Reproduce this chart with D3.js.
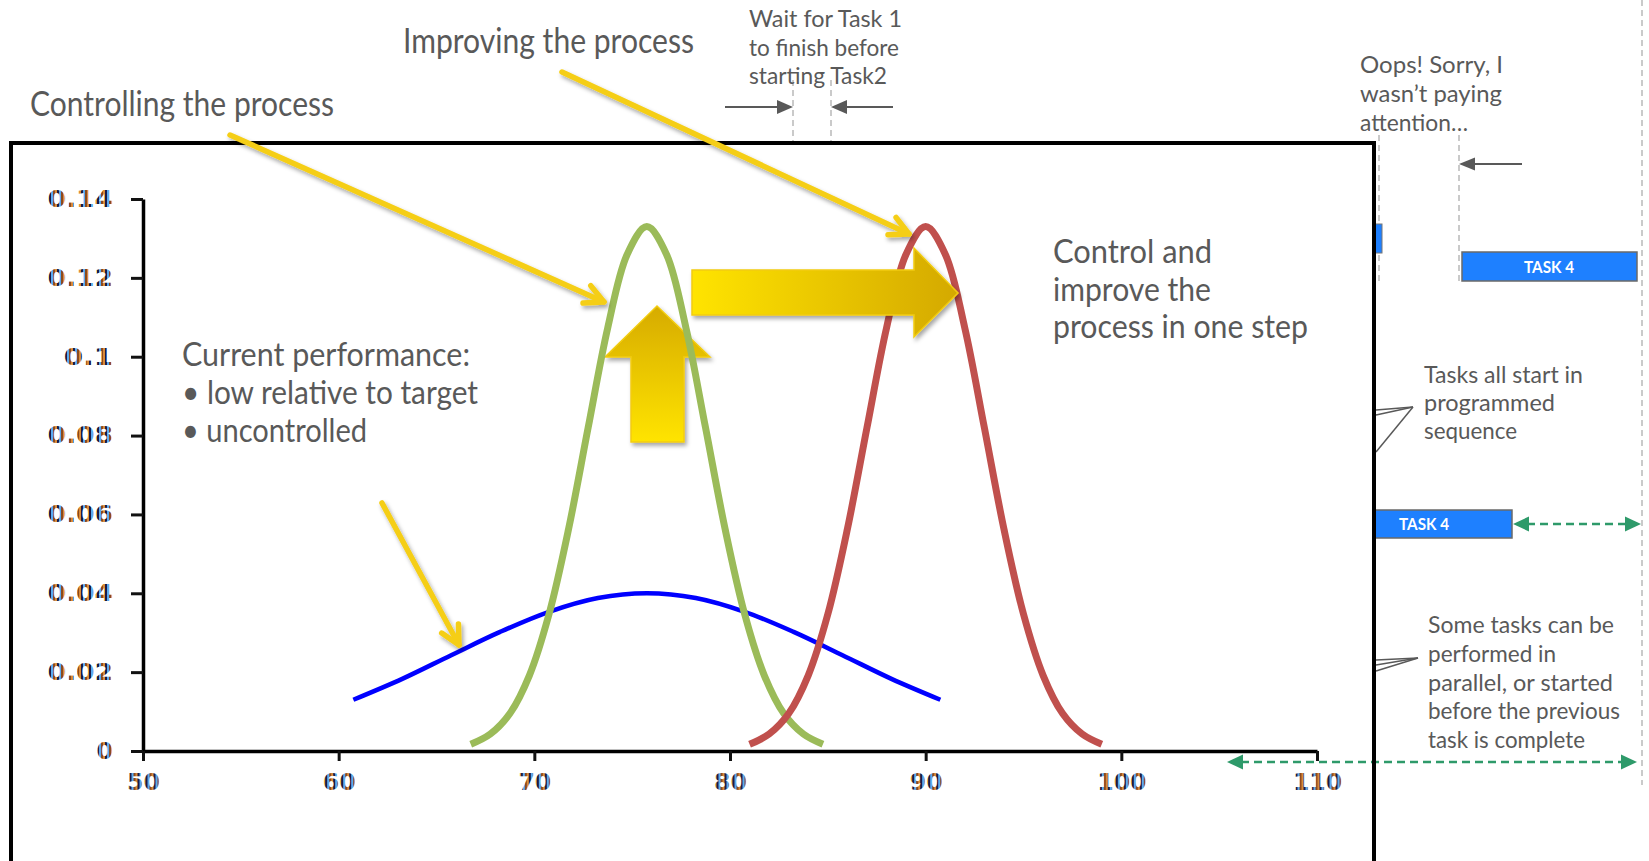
<!DOCTYPE html>
<html><head><meta charset="utf-8">
<script src="https://cdn.jsdelivr.net/npm/d3@7"></script>
<style>html,body{margin:0;padding:0;background:#fff;overflow:hidden}</style>
</head><body>
<svg id="c" width="1649" height="861"></svg>
<script>
// ---------- data ----------
const xTicks = [50, 60, 70, 80, 90, 100, 110];
const xTickLabels = ["50", "60", "70", "80", "90", "100", "110"];
const yTicks = [0, 0.02, 0.04, 0.06, 0.08, 0.1, 0.12, 0.14];
const yTickLabels = ["0", "0.02", "0.04", "0.06", "0.08", "0.1", "0.12", "0.14"];

// current performance (blue)
const blueX = [60.75, 63.25, 65.75, 68.25, 70.75, 73.25, 75.75, 78.25, 80.75, 83.25, 85.75, 88.25, 90.75];
const blueY = [0.0130, 0.0183, 0.0243, 0.0302, 0.0353, 0.0388, 0.0400, 0.0388, 0.0353, 0.0302, 0.0243, 0.0183, 0.0130];
// controlled process (green)
const greenX = [66.75, 67.75, 68.75, 69.75, 70.75, 71.75, 72.75, 73.75, 74.75, 75.75, 76.75, 77.75, 78.75, 79.75, 80.75, 81.75, 82.75, 83.75, 84.75];
const greenY = [0.0017, 0.0043, 0.0095, 0.0192, 0.0347, 0.0563, 0.0820, 0.1073, 0.1260, 0.1330, 0.1260, 0.1073, 0.0820, 0.0563, 0.0347, 0.0192, 0.0095, 0.0043, 0.0017];
// improved process (red)
const redX = [81, 82, 83, 84, 85, 86, 87, 88, 89, 90, 91, 92, 93, 94, 95, 96, 97, 98, 99];
const redY = [0.0017, 0.0043, 0.0095, 0.0192, 0.0347, 0.0563, 0.0820, 0.1073, 0.1260, 0.1330, 0.1260, 0.1073, 0.0820, 0.0563, 0.0347, 0.0192, 0.0095, 0.0043, 0.0017];

const titleControl = "Controlling the process";
const titleImprove = "Improving the process";
const noteStep = ["Control and", "improve the", "process in one step"];
const noteCurrent = ["Current performance:", "\u2022 low relative to target", "\u2022 uncontrolled"];
const noteWait = ["Wait for Task 1", "to finish before", "starting Task2"];
const noteOops = ["Oops! Sorry, I", "wasn\u2019t paying", "attention\u2026"];
const noteSeq = ["Tasks all start in", "programmed", "sequence"];
const noteParallel = ["Some tasks can be", "performed in", "parallel, or started", "before the previous", "task is complete"];
const taskLabel = "TASK 4";

// ---------- drawing ----------
const svg = d3.select("#c");
const defs = svg.append("defs");
const GRAY = "#595959";
const FONT = "Lato, 'Open Sans', sans-serif";

const sh = defs.append("filter").attr("id", "sh").attr("x", "-20%").attr("y", "-20%").attr("width", "140%").attr("height", "160%");
sh.append("feDropShadow").attr("dx", 2).attr("dy", 3).attr("stdDeviation", 2).attr("flood-color", "#000").attr("flood-opacity", 0.35);

const gUp = defs.append("linearGradient").attr("id", "gUp").attr("x1", 0).attr("y1", 0).attr("x2", 0).attr("y2", 1);
gUp.append("stop").attr("offset", "0%").attr("stop-color", "#D6AB00");
gUp.append("stop").attr("offset", "100%").attr("stop-color", "#FFE400");
const gRt = defs.append("linearGradient").attr("id", "gRt").attr("x1", 0).attr("y1", 0).attr("x2", 1).attr("y2", 0);
gRt.append("stop").attr("offset", "0%").attr("stop-color", "#FFE400");
gRt.append("stop").attr("offset", "100%").attr("stop-color", "#D4A900");

// stripes that mimic the colour-fringed bitmap tick labels
const pat = defs.append("pattern").attr("id", "ct").attr("patternUnits", "userSpaceOnUse").attr("width", 8).attr("height", 8);
[["#D98A38", 0], ["#1b1b48", 2], ["#5AAAF0", 4], ["#8a4a20", 6]].forEach(([c, o]) =>
  pat.append("rect").attr("x", o).attr("y", 0).attr("width", 2).attr("height", 8).attr("fill", c));

function lines(arr, x, y0, step, size, widths, g) {
  arr.forEach((s, i) => {
    const t = (g || svg).append("text").attr("x", x).attr("y", y0 + i * step)
      .attr("font-family", FONT).attr("font-size", size).attr("fill", GRAY).text(s);
    if (widths && widths[i]) t.attr("textLength", widths[i]).attr("lengthAdjust", "spacingAndGlyphs");
  });
}
function grayArrow(x1, y1, x2, y2, col, len, half) {
  const a = Math.atan2(y2 - y1, x2 - x1);
  const bx = x2 - len * Math.cos(a), by = y2 - len * Math.sin(a);
  svg.append("line").attr("x1", x1).attr("y1", y1).attr("x2", bx).attr("y2", by).attr("stroke", col).attr("stroke-width", 2);
  svg.append("path").attr("d", `M${x2},${y2}L${bx - half * Math.sin(a)},${by + half * Math.cos(a)}L${bx + half * Math.sin(a)},${by - half * Math.cos(a)}Z`).attr("fill", col);
}
function vdash(x, y1, y2) {
  svg.append("line").attr("x1", x).attr("x2", x).attr("y1", y1).attr("y2", y2)
    .attr("stroke", "#BDBDBD").attr("stroke-width", 1.6).attr("stroke-dasharray", "6,4");
}
function greenDouble(x1, x2, y) {
  const col = "#2E9A6A";
  svg.append("line").attr("x1", x1 + 14).attr("x2", x2 - 14).attr("y1", y).attr("y2", y)
    .attr("stroke", col).attr("stroke-width", 2.5).attr("stroke-dasharray", "8,5");
  svg.append("path").attr("d", `M${x1},${y}L${x1 + 16},${y - 7.5}L${x1 + 16},${y + 7.5}Z`).attr("fill", col);
  svg.append("path").attr("d", `M${x2},${y}L${x2 - 16},${y - 7.5}L${x2 - 16},${y + 7.5}Z`).attr("fill", col);
}

// ---- background gantt slide ----
vdash(793, 80, 143); vdash(831, 80, 143);
vdash(1379, 135, 282); vdash(1459, 135, 284);
vdash(1642, 0, 785);
grayArrow(725, 107, 793, 107, GRAY, 16, 7);
grayArrow(893, 107, 831, 107, GRAY, 16, 7);
grayArrow(1522, 164, 1459, 164, GRAY, 16, 6.5);
lines(noteWait, 749, 27, 28.5, 23, [153, 150, 138]);
lines(noteOops, 1360, 73, 29, 23, [143, 142, 108]);
lines(noteSeq, 1424, 383, 28, 23, [159, 131, 93]);
lines(noteParallel, 1428, 633, 28.8, 23, [186, 128, 185, 192, 157]);

// task bars
svg.append("rect").attr("x", 1370).attr("y", 224).attr("width", 12).attr("height", 29).attr("fill", "#1E80FF").attr("stroke", "#777").attr("stroke-width", 1);
function bar(x0, x1, y0, y1, cx) {
  svg.append("rect").attr("x", x0).attr("y", y0).attr("width", x1 - x0).attr("height", y1 - y0)
    .attr("fill", "#1E80FF").attr("stroke", "#6a6a6a").attr("stroke-width", 1.5);
  svg.append("text").attr("x", cx).attr("y", (y0 + y1) / 2 + 6).attr("text-anchor", "middle")
    .attr("font-family", FONT).attr("font-weight", "bold").attr("font-size", 17).attr("fill", "#fff")
    .attr("textLength", 50).attr("lengthAdjust", "spacingAndGlyphs").text(taskLabel);
}
bar(1462, 1637, 252, 281, 1549);
bar(1365, 1512, 510, 538, 1424);
greenDouble(1513, 1641, 524);

// callout lines
const cl = svg.append("g").attr("stroke", GRAY).attr("stroke-width", 1.5).attr("fill", "none");
[[1376, 410], [1376, 415], [1376, 452]].forEach(p => cl.append("line").attr("x1", 1413).attr("y1", 407).attr("x2", p[0]).attr("y2", p[1]));
[[1376, 660], [1376, 665], [1376, 671]].forEach(p => cl.append("line").attr("x1", 1418).attr("y1", 658).attr("x2", p[0]).attr("y2", p[1]));

// ---- chart picture ----
svg.append("rect").attr("x", 11).attr("y", 143).attr("width", 1363).attr("height", 730).attr("fill", "#fff");

const x = d3.scaleLinear().domain([50, 110]).range([143, 1317]);
const y = d3.scaleLinear().domain([0, 0.14]).range([751, 199]);

const yAx = svg.append("g").attr("transform", "translate(143,0)")
  .call(d3.axisLeft(y).tickValues(yTicks).tickFormat((d, i) => yTickLabels[i]).tickSize(12).tickSizeOuter(0).tickPadding(18));
const xAx = svg.append("g").attr("transform", "translate(0,751)")
  .call(d3.axisBottom(x).tickValues(xTicks).tickFormat((d, i) => xTickLabels[i]).tickSize(10).tickSizeOuter(0).tickPadding(13));
[yAx, xAx].forEach(a => {
  a.select(".domain").attr("stroke", "#000").attr("stroke-width", 3.5);
  a.selectAll(".tick line").attr("stroke", "#111").attr("stroke-width", 3);
  a.selectAll(".tick text").attr("font-family", "'DejaVu Sans', Verdana, sans-serif").attr("font-weight", "bold")
    .attr("font-size", 23).attr("fill", "url(#ct)")
    .attr("textLength", function () { return this.textContent.length * 16.4; })
    .attr("lengthAdjust", "spacingAndGlyphs");
});

// up block arrow (behind curves)
svg.append("path").attr("filter", "url(#sh)")
  .attr("d", "M657,306L710,357L684,357L684,442L631,442L631,357L605,357Z")
  .attr("fill", "url(#gUp)").attr("stroke", "#F2CC10").attr("stroke-width", 1.5);

const line = d3.line().x(d => x(d[0])).y(d => y(d[1])).curve(d3.curveCatmullRom.alpha(0.5));
svg.append("path").attr("d", line(blueX.map((v, i) => [v, blueY[i]]))).attr("fill", "none").attr("stroke", "#0000FF").attr("stroke-width", 4.5);
svg.append("path").attr("d", line(greenX.map((v, i) => [v, greenY[i]]))).attr("fill", "none").attr("stroke", "#9BBB59").attr("stroke-width", 7);
svg.append("path").attr("d", line(redX.map((v, i) => [v, redY[i]]))).attr("fill", "none").attr("stroke", "#C0504D").attr("stroke-width", 7);

// right block arrow (over curves)
svg.append("path").attr("filter", "url(#sh)")
  .attr("d", "M692,270L914,270L914,248L958,293L914,337L914,315L692,315Z")
  .attr("fill", "url(#gRt)").attr("stroke", "#F2CC10").attr("stroke-width", 1.5);

lines(noteCurrent, 182, 366, 38, 33, [288, 296, 185]);
lines(noteStep, 1053, 263, 37.5, 33, [159, 158, 255]);

greenDouble(1227, 1637, 762);

// frame
svg.append("path").attr("d", "M11,870V143H1374V870").attr("fill", "none").attr("stroke", "#000").attr("stroke-width", 4);

// titles
svg.append("text").attr("x", 30).attr("y", 116).attr("font-family", FONT).attr("font-size", 34).attr("fill", GRAY)
  .attr("textLength", 304).attr("lengthAdjust", "spacingAndGlyphs").text(titleControl);
svg.append("text").attr("x", 403).attr("y", 53).attr("font-family", FONT).attr("font-size", 34).attr("fill", GRAY)
  .attr("textLength", 291).attr("lengthAdjust", "spacingAndGlyphs").text(titleImprove);

// yellow pointer arrows
function yArrow(x1, y1, x2, y2) {
  const g = svg.append("g").attr("filter", "url(#sh)").attr("stroke", "#F5CE16").attr("stroke-width", 5.5)
    .attr("stroke-linecap", "round").attr("stroke-linejoin", "round").attr("fill", "none");
  const a = Math.atan2(y2 - y1, x2 - x1), L = 21, s = 0.47;
  g.append("line").attr("x1", x1).attr("y1", y1).attr("x2", x2).attr("y2", y2);
  g.append("path").attr("d", `M${x2 - L * Math.cos(a - s)},${y2 - L * Math.sin(a - s)}L${x2},${y2}L${x2 - L * Math.cos(a + s)},${y2 - L * Math.sin(a + s)}`);
}
yArrow(230, 135, 604, 302);
yArrow(562, 72, 909, 234);
yArrow(382, 503, 459, 645);
</script>
</body></html>
